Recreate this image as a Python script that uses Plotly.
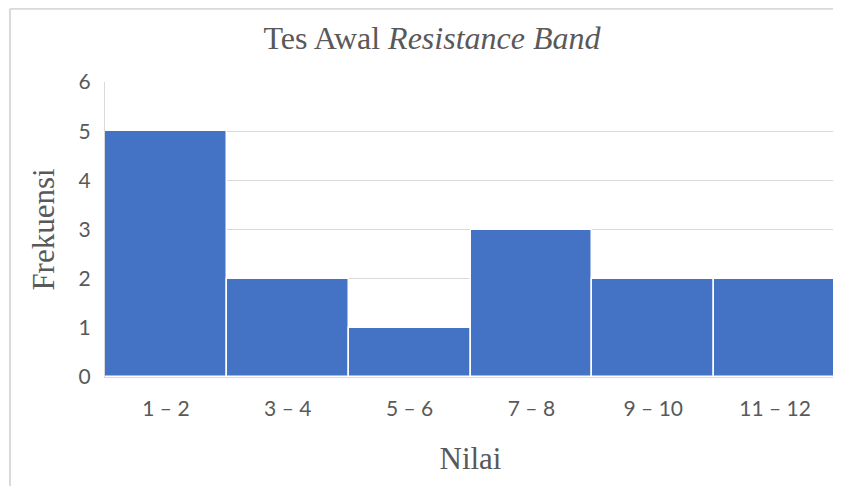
import plotly.graph_objects as go

categories = ["1 – 2", "3 – 4", "5 – 6", "7 – 8", "9 – 10", "11 – 12"]
frequencies = [5, 2, 1, 3, 2, 2]
y_ticks = [0, 1, 2, 3, 4, 5, 6]

SERIF = "Liberation Serif, Times New Roman, serif"
SANS = "Lato, Carlito, Liberation Sans, Arial, sans-serif"
GREY = "#595959"

fig = go.Figure(
    go.Bar(
        x=categories,
        y=frequencies,
        marker=dict(color="#4472C4", line=dict(color="white", width=1.5)),
    )
)

fig.update_layout(
    width=833,
    height=478,
    margin=dict(l=97, r=5, t=74, b=109),
    paper_bgcolor="white",
    plot_bgcolor="white",
    bargap=0,
    showlegend=False,
    title=dict(
        text="Tes Awal <i>Resistance Band</i>",
        x=0.509,
        xref="container",
        y=0.937,
        yref="container",
        xanchor="center",
        yanchor="middle",
        font=dict(family=SERIF, size=32, color=GREY),
    ),
    xaxis=dict(
        type="category",
        tickfont=dict(family=SANS, size=21, color=GREY),
        showline=True,
        linecolor="#d9d9d9",
        linewidth=1,
        ticks="",
        ticklabelstandoff=13,
        title=dict(text="Nilai", font=dict(family=SERIF, size=31, color=GREY), standoff=28),
    ),
    yaxis=dict(
        range=[0, 6],
        tickvals=y_ticks,
        tickfont=dict(family=SANS, size=21, color=GREY),
        showgrid=True,
        gridcolor="#d9d9d9",
        gridwidth=1,
        showline=True,
        linecolor="#d9d9d9",
        zeroline=False,
        ticks="",
        ticklabelstandoff=9,
        title=dict(text="Frekuensi", font=dict(family=SERIF, size=31, color=GREY), standoff=14),
    ),
    shapes=[
        dict(type="line", xref="paper", yref="paper", x0=-0.130, x1=1.02, y0=1.248, y1=1.248,
             line=dict(color="#d9d9d9", width=2)),
        dict(type="line", xref="paper", yref="paper", x0=-0.130, x1=-0.130, y0=1.248, y1=-0.40,
             line=dict(color="#d9d9d9", width=2)),
    ],
)

fig.write_html("out.html")
